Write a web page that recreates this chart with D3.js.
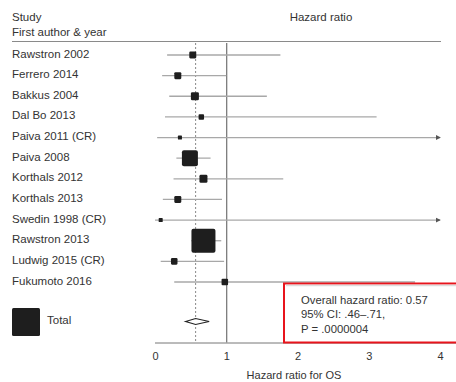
<!DOCTYPE html>
<html><head><meta charset="utf-8">
<script src="https://cdn.jsdelivr.net/npm/d3@7"></script>
<style>
body{margin:0;background:#fff;overflow:hidden;}
svg{display:block;font-family:"Liberation Sans",Arial,sans-serif;}
</style></head>
<body>
<div id="chart"></div>
<script>
const studies = ["Rawstron 2002","Ferrero 2014","Bakkus 2004","Dal Bo 2013","Paiva 2011 (CR)","Paiva 2008","Korthals 2012","Korthals 2013","Swedin 1998 (CR)","Rawstron 2013","Ludwig 2015 (CR)","Fukumoto 2016"];
const hr     = [0.53,0.32,0.56,0.65,0.35,0.49,0.68,0.32,0.08,0.68,0.27,0.98];
const lower  = [0.17,0.10,0.20,0.14,0.03,0.30,0.26,0.11,0.00,0.51,0.08,0.27];
const upper  = [1.76,1.00,1.57,3.11,5.00,0.78,1.80,0.94,5.50,0.93,0.97,3.65];
const weights= [3.9,3.9,5.1,2.4,1.3,20.4,5.1,3.9,1.3,46.0,3.4,3.4];
const pooled = {hr:0.57, lower:0.43, upper:0.76};
const xTicks = [0,1,2,3,4];
const summaryLines = ["Overall hazard ratio: 0.57","95% CI: .46\u2013.71,","P = .0000004"];

const W=456,H=382;
const svg=d3.select("#chart").append("svg").attr("width",W).attr("height",H);
const x=d3.scaleLinear().domain([0,4]).range([155,440]);
const y=d3.scalePoint().domain(studies).range([55,282]);
const side=d3.scaleSqrt().domain([0,46]).range([0,24]);
const totalY=321.5, axisY=342.5;
const txt="#333";

// headers
svg.append("text").attr("x",12).attr("y",21).attr("font-size",11.5).attr("fill",txt).text("Study");
svg.append("text").attr("x",12).attr("y",35.5).attr("font-size",11.5).attr("fill",txt).text("First author & year");
svg.append("text").attr("x",321).attr("y",21).attr("text-anchor","middle").attr("font-size",11.5).attr("fill",txt).text("Hazard ratio");
svg.append("line").attr("x1",12).attr("x2",441).attr("y1",41.5).attr("y2",41.5).attr("stroke","#8a8a8a").attr("stroke-width",1);

// reference lines
svg.append("line").attr("x1",x(1)+0.5).attr("x2",x(1)+0.5).attr("y1",43).attr("y2",axisY).attr("stroke","#555").attr("stroke-width",1);
svg.append("line").attr("x1",x(pooled.hr)).attr("x2",x(pooled.hr)).attr("y1",43).attr("y2",axisY).attr("stroke","#888").attr("stroke-width",1).attr("stroke-dasharray","2,2");

// defs arrow
svg.append("defs").append("marker").attr("id","arr").attr("viewBox","0 0 6 6").attr("refX",5).attr("refY",3)
  .attr("markerWidth",4).attr("markerHeight",4).attr("orient","auto")
  .append("path").attr("d","M0,0L6,3L0,6Z").attr("fill","#555");

const rows=studies.map((s,i)=>({s,hr:hr[i],lo:lower[i],hi:upper[i],w:weights[i]}));
const g=svg.append("g");
rows.forEach(d=>{
  const yy=y(d.s);
  const over=d.hi>4;
  g.append("line").attr("x1",x(d.lo)).attr("x2",x(Math.min(d.hi,4))).attr("y1",yy).attr("y2",yy)
    .attr("stroke","#a8a8a8").attr("stroke-width",1.3).attr("marker-end",over?"url(#arr)":null);
});
rows.forEach(d=>{
  const yy=y(d.s), s=side(d.w);
  g.append("rect").attr("x",x(d.hr)-s/2).attr("y",yy-s/2).attr("width",s).attr("height",s)
    .attr("rx",Math.min(2,s/6)).attr("fill","#1e1e1e");
  svg.append("text").attr("x",12).attr("y",yy+2.5).attr("font-size",11.5).attr("fill",txt).text(d.s);
});

// pooled diamond
svg.append("path").attr("d",`M${x(pooled.lower)},${totalY}L${x(pooled.hr)},${totalY-3}L${x(pooled.upper)},${totalY}L${x(pooled.hr)},${totalY+3}Z`)
  .attr("fill","#fff").attr("stroke","#222").attr("stroke-width",1.2);

// legend
svg.append("rect").attr("x",12).attr("y",308).attr("width",28).attr("height",28).attr("rx",1.5).attr("fill","#1e1e1e");
svg.append("text").attr("x",47).attr("y",324).attr("font-size",11.5).attr("fill",txt).text("Total");

// axis
const ax=svg.append("g").attr("transform",`translate(0,${axisY})`)
  .call(d3.axisBottom(x).tickValues(xTicks).tickSize(0).tickPadding(10).tickFormat(d3.format("d")));
ax.select(".domain").attr("stroke","#777").attr("d",`M${x(0)},0.5H456`);
ax.selectAll("text").attr("font-size",11).attr("fill",txt).attr("font-family","Liberation Sans, Arial, sans-serif");
svg.append("text").attr("x",294).attr("y",379).attr("text-anchor","middle").attr("font-size",11).attr("fill",txt).text("Hazard ratio for OS");

// summary box (extends past the right edge, as in the reference)
const bx=svg.append("g");
bx.append("rect").attr("x",284).attr("y",283.5).attr("width",185).attr("height",59).attr("fill","#fff").attr("stroke","#e8141c").attr("stroke-width",2);
bx.append("line").attr("x1",286).attr("x2",456).attr("y1",285.5).attr("y2",285.5).attr("stroke","#ddd").attr("stroke-width",1.5);
summaryLines.forEach((t,i)=>{
  bx.append("text").attr("x",301).attr("y",304+i*14.3).attr("font-size",11.3).attr("fill",txt).text(t);
});
</script>
</body></html>
